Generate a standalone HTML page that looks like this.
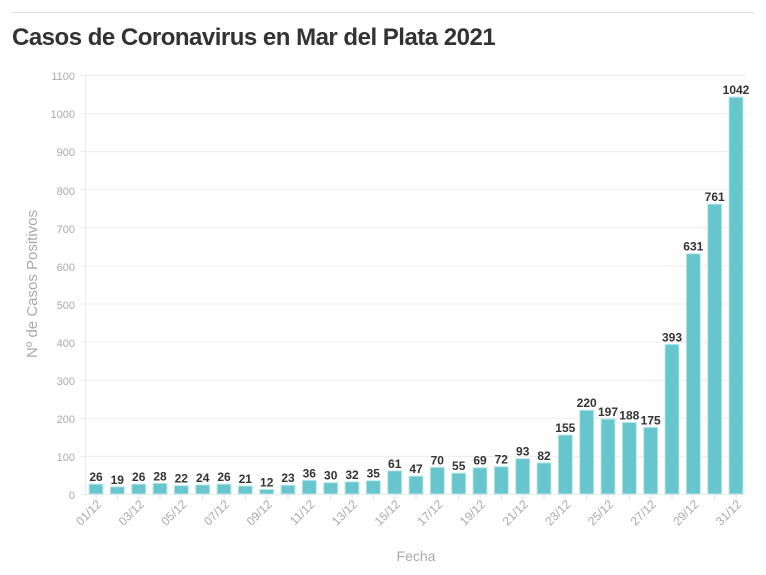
<!DOCTYPE html><html><head><style>body{margin:0;background:#fff}svg{display:block;font-family:"Liberation Sans",sans-serif}</style></head><body>
<svg width="766" height="575" viewBox="0 0 766 575">
<line x1="12" y1="12.5" x2="754" y2="12.5" stroke="#ddd"/>
<text x="12" y="45" font-size="24" font-weight="bold" fill="#333" letter-spacing="-0.5">Casos de Coronavirus en Mar del Plata 2021</text>
<g stroke="#ececec" stroke-width="1">
<line x1="80" x2="746" y1="494.5" y2="494.5"/><line x1="80" x2="746" y1="456.4" y2="456.4"/><line x1="80" x2="746" y1="418.3" y2="418.3"/><line x1="80" x2="746" y1="380.2" y2="380.2"/><line x1="80" x2="746" y1="342.1" y2="342.1"/><line x1="80" x2="746" y1="304" y2="304"/><line x1="80" x2="746" y1="265.9" y2="265.9"/><line x1="80" x2="746" y1="227.8" y2="227.8"/><line x1="80" x2="746" y1="189.7" y2="189.7"/><line x1="80" x2="746" y1="151.6" y2="151.6"/><line x1="80" x2="746" y1="113.5" y2="113.5"/><line x1="80" x2="746" y1="75.4" y2="75.4"/>
<line x1="85.5" x2="85.5" y1="75" y2="494"/>
</g>
<g stroke="#e4e4e4" stroke-width="1">
<path d="M96,494v7M117.3,494v7M138.7,494v7M160,494v7M181.3,494v7M202.7,494v7M224,494v7M245.3,494v7M266.7,494v7M288,494v7M309.3,494v7M330.7,494v7M352,494v7M373.3,494v7M394.7,494v7M416,494v7M437.3,494v7M458.7,494v7M480,494v7M501.3,494v7M522.7,494v7M544,494v7M565.3,494v7M586.7,494v7M608,494v7M629.3,494v7M650.7,494v7M672,494v7M693.3,494v7M714.7,494v7M736,494v7"/>
</g>
<g font-size="11" fill="#aaa" text-anchor="end">
<text x="75" y="499">0</text><text x="75" y="461">100</text><text x="75" y="423">200</text><text x="75" y="385">300</text><text x="75" y="347">400</text><text x="75" y="309">500</text><text x="75" y="271">600</text><text x="75" y="233">700</text><text x="75" y="195">800</text><text x="75" y="156">900</text><text x="75" y="118">1000</text><text x="75" y="80">1100</text>
</g>
<text transform="translate(37,284) rotate(-90)" font-size="15" fill="#aaa" text-anchor="middle">Nº de Casos Positivos</text>
<text x="416" y="561" font-size="14" fill="#aaa" text-anchor="middle">Fecha</text>
<g transform="translate(0,494)" fill="#67c6cc" stroke="#bfe8eb" stroke-width="1">
<rect x="89" y="-9.9" width="14" height="9.9"/><rect x="110.3" y="-7.2" width="14" height="7.2"/><rect x="131.7" y="-9.9" width="14" height="9.9"/><rect x="153" y="-10.7" width="14" height="10.7"/><rect x="174.3" y="-8.4" width="14" height="8.4"/><rect x="195.7" y="-9.1" width="14" height="9.1"/><rect x="217" y="-9.9" width="14" height="9.9"/><rect x="238.3" y="-8" width="14" height="8"/><rect x="259.7" y="-4.6" width="14" height="4.6"/><rect x="281" y="-8.8" width="14" height="8.8"/><rect x="302.3" y="-13.7" width="14" height="13.7"/><rect x="323.7" y="-11.4" width="14" height="11.4"/><rect x="345" y="-12.2" width="14" height="12.2"/><rect x="366.3" y="-13.3" width="14" height="13.3"/><rect x="387.7" y="-23.2" width="14" height="23.2"/><rect x="409" y="-17.9" width="14" height="17.9"/><rect x="430.3" y="-26.7" width="14" height="26.7"/><rect x="451.7" y="-20.9" width="14" height="20.9"/><rect x="473" y="-26.3" width="14" height="26.3"/><rect x="494.3" y="-27.4" width="14" height="27.4"/><rect x="515.7" y="-35.4" width="14" height="35.4"/><rect x="537" y="-31.2" width="14" height="31.2"/><rect x="558.3" y="-59" width="14" height="59"/><rect x="579.7" y="-83.8" width="14" height="83.8"/><rect x="601" y="-75" width="14" height="75"/><rect x="622.3" y="-71.6" width="14" height="71.6"/><rect x="643.7" y="-66.7" width="14" height="66.7"/><rect x="665" y="-149.7" width="14" height="149.7"/><rect x="686.3" y="-240.3" width="14" height="240.3"/><rect x="707.7" y="-289.9" width="14" height="289.9"/><rect x="729" y="-396.9" width="14" height="396.9"/>
</g>
<g transform="translate(0,491)" font-size="12" font-weight="bold" fill="#333" text-anchor="middle">
<text x="96" y="-9.9">26</text><text x="117.3" y="-7.2">19</text><text x="138.7" y="-9.9">26</text><text x="160" y="-10.7">28</text><text x="181.3" y="-8.4">22</text><text x="202.7" y="-9.1">24</text><text x="224" y="-9.9">26</text><text x="245.3" y="-8">21</text><text x="266.7" y="-4.6">12</text><text x="288" y="-8.8">23</text><text x="309.3" y="-13.7">36</text><text x="330.7" y="-11.4">30</text><text x="352" y="-12.2">32</text><text x="373.3" y="-13.3">35</text><text x="394.7" y="-23.2">61</text><text x="416" y="-17.9">47</text><text x="437.3" y="-26.7">70</text><text x="458.7" y="-20.9">55</text><text x="480" y="-26.3">69</text><text x="501.3" y="-27.4">72</text><text x="522.7" y="-35.4">93</text><text x="544" y="-31.2">82</text><text x="565.3" y="-59">155</text><text x="586.7" y="-83.8">220</text><text x="608" y="-75">197</text><text x="629.3" y="-71.6">188</text><text x="650.7" y="-66.7">175</text><text x="672" y="-149.7">393</text><text x="693.3" y="-240.3">631</text><text x="714.7" y="-289.9">761</text><text x="736" y="-396.9">1042</text>
</g>
<g font-size="12" fill="#aaa" text-anchor="end">
<text transform="translate(102,505) rotate(-45)">01/12</text><text transform="translate(144.7,505) rotate(-45)">03/12</text><text transform="translate(187.3,505) rotate(-45)">05/12</text><text transform="translate(230,505) rotate(-45)">07/12</text><text transform="translate(272.7,505) rotate(-45)">09/12</text><text transform="translate(315.3,505) rotate(-45)">11/12</text><text transform="translate(358,505) rotate(-45)">13/12</text><text transform="translate(400.7,505) rotate(-45)">15/12</text><text transform="translate(443.3,505) rotate(-45)">17/12</text><text transform="translate(486,505) rotate(-45)">19/12</text><text transform="translate(528.7,505) rotate(-45)">21/12</text><text transform="translate(571.3,505) rotate(-45)">23/12</text><text transform="translate(614,505) rotate(-45)">25/12</text><text transform="translate(656.7,505) rotate(-45)">27/12</text><text transform="translate(699.3,505) rotate(-45)">29/12</text><text transform="translate(742,505) rotate(-45)">31/12</text>
</g>
</svg>
</body></html>
